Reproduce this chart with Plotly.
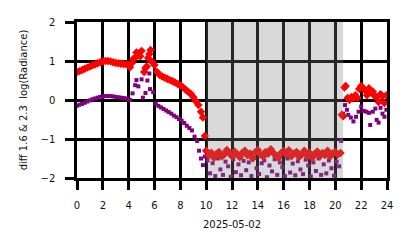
import plotly.graph_objects as go

# ---- data (hours of 2025-05-02, diff log radiance) ----
red_t = [0.0, 0.2, 0.4, 0.6, 0.8, 1.0, 1.2, 1.4, 1.6, 1.8, 2.0, 2.2, 2.4, 2.6, 2.8, 3.0, 3.2, 3.4, 3.6, 3.8, 4.0, 4.1,
         4.25, 4.35, 4.5, 4.6, 4.75, 4.9, 5.0, 5.2, 5.3, 5.4, 5.5, 5.6, 5.7, 5.8, 6.0,
         6.2, 6.4, 6.6, 6.8, 7.0, 7.2, 7.4, 7.6, 7.8, 8.0, 8.2, 8.4, 8.6, 8.8, 9.0, 9.2, 9.4, 9.6, 9.75, 9.9,
         10.0, 10.2, 10.4, 10.6, 10.8, 11.0, 11.2, 11.4, 11.6, 11.8,
         12.0, 12.2, 12.4, 12.6, 12.8, 13.0, 13.2, 13.4, 13.6, 13.8,
         14.0, 14.2, 14.4, 14.6, 14.8, 15.0, 15.2, 15.4, 15.6, 15.8,
         16.0, 16.2, 16.4, 16.6, 16.8, 17.0, 17.2, 17.4, 17.6, 17.8,
         18.0, 18.2, 18.4, 18.6, 18.8, 19.0, 19.2, 19.4, 19.6, 19.8,
         20.0, 20.2, 20.4,
         20.5, 20.6, 20.7, 20.8, 20.95, 21.1, 21.25, 21.4, 21.55, 21.7, 21.85, 22.0, 22.15, 22.3, 22.45,
         22.6, 22.75, 22.9, 23.05, 23.2, 23.35, 23.5, 23.65, 23.8, 23.95]
red_v = [0.72, 0.74, 0.77, 0.80, 0.83, 0.86, 0.89, 0.91, 0.94, 0.97, 0.99, 1.00, 1.00, 0.99, 0.97, 0.95, 0.94, 0.93, 0.92, 0.92, 0.90, 0.84,
         0.95, 1.05, 1.08, 1.22, 1.18, 1.12, 1.26, 0.72, 0.82, 0.86, 1.08, 1.18, 1.28, 0.98, 0.90,
         0.72, 0.64, 0.60, 0.57, 0.54, 0.51, 0.48, 0.45, 0.41, 0.38, 0.33, 0.27, 0.21, 0.16, 0.08, -0.03, -0.13, -0.30, -0.45, -0.92,
         -1.30, -1.42, -1.35, -1.48, -1.38, -1.33, -1.45, -1.40, -1.28, -1.36,
         -1.44, -1.32, -1.39, -1.47, -1.35, -1.30, -1.42, -1.37, -1.50, -1.34,
         -1.28, -1.40, -1.45, -1.33, -1.38, -1.26, -1.35, -1.43, -1.48, -1.36,
         -1.31, -1.40, -1.29, -1.44, -1.37, -1.33, -1.46, -1.39, -1.30, -1.42,
         -1.35, -1.49, -1.38, -1.32, -1.44, -1.36, -1.41, -1.30, -1.45, -1.37,
         -1.33, -1.40, -1.36,
         -0.38, -0.42, 0.32, 0.36, 0.05, 0.00, 0.08, 0.05, 0.12, 0.05, 0.28, 0.36, 0.30, 0.25, 0.12,
         0.30, 0.20, 0.22, 0.10, 0.08, -0.05, 0.15, 0.10, -0.08, 0.12]

purple_t = [0.0, 0.2, 0.4, 0.6, 0.8, 1.0, 1.2, 1.4, 1.6, 1.8, 2.0, 2.2, 2.4, 2.6, 2.8, 3.0, 3.2, 3.4, 3.6, 3.8, 4.0,
            4.1, 4.3, 4.5, 4.6, 4.75, 5.0, 5.1, 5.3, 5.45, 5.6, 5.65, 5.9,
            6.1, 6.3, 6.5, 6.7, 6.9, 7.1, 7.3, 7.5, 7.7, 7.9, 8.1, 8.3, 8.5, 8.7, 8.9, 9.1, 9.3, 9.45, 9.6, 9.75, 9.9,
            10.1, 10.3, 10.5, 10.7, 10.9, 11.1, 11.3, 11.5, 11.7, 11.9,
            12.1, 12.3, 12.5, 12.7, 12.9, 13.1, 13.3, 13.5, 13.7, 13.9,
            14.1, 14.3, 14.5, 14.7, 14.9, 15.1, 15.3, 15.5, 15.7, 15.9,
            16.1, 16.3, 16.5, 16.7, 16.9, 17.1, 17.3, 17.5, 17.7, 17.9,
            18.1, 18.3, 18.5, 18.7, 18.9, 19.1, 19.3, 19.5, 19.7, 19.9,
            20.1, 20.3,
            20.45, 20.6, 20.75, 20.9, 21.0, 21.2, 21.4, 21.6, 21.8, 22.0, 22.2, 22.4, 22.6, 22.7,
            22.9, 23.1, 23.2, 23.35, 23.5, 23.65, 23.8, 23.95]
purple_v = [-0.15, -0.12, -0.10, -0.07, -0.04, -0.01, 0.02, 0.04, 0.06, 0.08, 0.09, 0.10, 0.10, 0.10, 0.09, 0.08, 0.07, 0.06, 0.05, 0.04, 0.02,
            0.00, 0.17, 0.38, 0.51, 0.35, 0.53, 0.06, 0.18, 0.50, 0.68, 0.28, 0.20,
            -0.10, -0.15, -0.19, -0.23, -0.27, -0.31, -0.35, -0.40, -0.44, -0.49, -0.53, -0.59, -0.66, -0.72, -0.78, -0.94, -1.05, -1.30, -1.50, -1.67, -1.45,
            -1.55, -1.88, -1.62, -1.95, -1.50, -1.78, -1.92, -1.58, -1.70, -1.97,
            -1.52, -1.85, -1.65, -1.93, -1.56, -1.80, -1.60, -1.95, -1.48, -1.75,
            -1.90, -1.62, -1.55, -1.98, -1.68, -1.83, -1.52, -1.92, -1.60, -1.72,
            -1.95, -1.50, -1.86, -1.63, -1.93, -1.57, -1.78, -1.90, -1.53, -1.68,
            -1.96, -1.60, -1.82, -1.50, -1.92, -1.65, -1.88, -1.55, -1.75, -1.94,
            -1.58, -1.70,
            -1.05, -0.35, -0.13, -0.25, -0.38, -0.45, -0.55, -0.43, -0.30, -0.17, -0.28, -0.30, -0.33, -0.64,
            -0.30, -0.22, -0.51, -0.58, -0.20, -0.35, -0.43, -0.25]

shade_start = 10.0
shade_end = 20.6
x_ticks = [0, 2, 4, 6, 8, 10, 12, 14, 16, 18, 20, 22, 24]
y_ticks = [-2, -1, 0, 1, 2]
x_title = "2025-05-02"
y_title = "diff 1.6 & 2.3  log(Radiance)"

FONT = "DejaVu Sans"
fig = go.Figure()
fig.add_trace(go.Scatter(x=purple_t, y=purple_v, mode="markers",
                         marker=dict(symbol="square", size=4, color="#800080", line=dict(width=0)),
                         showlegend=False))
fig.add_trace(go.Scatter(x=red_t, y=red_v, mode="markers",
                         marker=dict(symbol="diamond", size=6.5, color="#ff0000", line=dict(width=0)),
                         showlegend=False))

fig.add_shape(type="rect", xref="x", yref="y", x0=shade_start, x1=shade_end, y0=-2, y1=2,
              fillcolor="rgba(128,128,128,0.3)", line=dict(width=0), layer="above")

axis_common = dict(showgrid=True, gridcolor="black", gridwidth=2.5,
                   zeroline=True, zerolinecolor="black", zerolinewidth=2.5,
                   showline=True, linecolor="black", linewidth=2.5, mirror=True,
                   ticks="outside", ticklen=9, tickwidth=2.5, tickcolor="black",
                   tickfont=dict(family=FONT, size=10, color="#111"))

fig.update_layout(
    width=414, height=248,
    margin=dict(l=77, r=27, t=22, b=70),
    paper_bgcolor="white", plot_bgcolor="white",
    font=dict(family=FONT, size=10, color="#111"),
    xaxis=dict(range=[0, 24], tickmode="array", tickvals=x_ticks,
               title=dict(text=x_title, font=dict(family=FONT, size=10), standoff=12),
               ticklabelstandoff=7, **axis_common),
    yaxis=dict(range=[-2, 2], tickmode="array", tickvals=y_ticks,
               title=dict(text=y_title, font=dict(family=FONT, size=10), standoff=12),
               ticklabelstandoff=8, **axis_common),
)

fig.write_html("out.html")
